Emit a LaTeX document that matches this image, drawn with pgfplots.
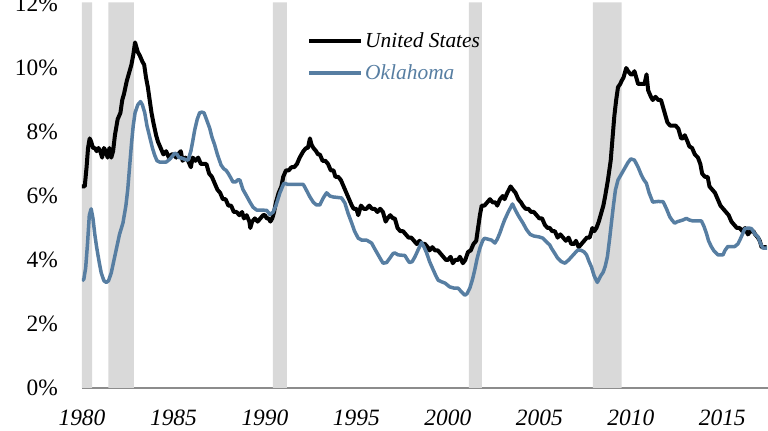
\documentclass[border=0pt]{standalone}
\usepackage{pgfplots}
\pgfplotsset{compat=1.18}
\usepackage{fontspec}
\setmainfont{Liberation Serif}
\definecolor{okblue}{HTML}{577EA2}
\definecolor{recgray}{HTML}{D9D9D9}
\definecolor{axgray}{HTML}{8C8C8C}
\begin{document}
\begin{tikzpicture}
\begin{axis}[
  scale only axis,
  width=686bp, height=385.6bp,
  xmin=1980, xmax=2017.5,
  ymin=0, ymax=12.05,
  axis x line*=bottom,
  axis y line*=left,
  x axis line style={-, draw=axgray, line width=2bp},
  y axis line style={-, draw=none},
  major tick length=0pt,
  tick style={draw=none},
  xtick={1980,1985,...,2015},
  ytick={0,2,...,12},
  /pgf/number format/assume math mode=true,
  xticklabel={\pgfmathprintnumber[1000 sep={}]{\tick}},
  yticklabel={\pgfmathprintnumber{\tick}\%},
  xticklabel style={font=\fontsize{23.5}{28}\selectfont\itshape, anchor=north, inner sep=0pt, yshift=-21.5bp},
  yticklabel style={font=\fontsize{23.5}{28}\selectfont, anchor=east, inner sep=0pt, xshift=-24bp},
  legend style={draw=none, fill=none, at={(rel axis cs:0.328,0.928)}, anchor=north west,
     inner sep=0pt, row sep=12bp, font=\fontsize{21.5}{25}\selectfont\itshape},
  legend cell align=left,
  legend image code/.code={\draw[#1] (0bp,0bp) -- (52bp,0bp);},
]
% recession shading
\addplot[fill=recgray, draw=none, forget plot] coordinates {(1980.0,0)(1980.0,12.05)(1980.55,12.05)(1980.55,0)} \closedcycle;
\addplot[fill=recgray, draw=none, forget plot] coordinates {(1981.44,0)(1981.44,12.05)(1982.84,12.05)(1982.84,0)} \closedcycle;
\addplot[fill=recgray, draw=none, forget plot] coordinates {(1990.44,0)(1990.44,12.05)(1991.2,12.05)(1991.2,0)} \closedcycle;
\addplot[fill=recgray, draw=none, forget plot] coordinates {(2001.15,0)(2001.15,12.05)(2001.86,12.05)(2001.86,0)} \closedcycle;
\addplot[fill=recgray, draw=none, forget plot] coordinates {(2007.92,0)(2007.92,12.05)(2009.5,12.05)(2009.5,0)} \closedcycle;
% United States
\addplot[black, line width=4bp, line join=round] coordinates {
(1980.00,6.3)(1980.15,6.3)(1980.25,6.9)(1980.33,7.5)(1980.42,7.8)(1980.5,7.7)(1980.6,7.5)(1980.7,7.5)(1980.8,7.4)(1980.9,7.5)
(1981.0,7.4)(1981.1,7.2)(1981.2,7.5)(1981.3,7.4)(1981.4,7.2)(1981.5,7.5)(1981.6,7.2)(1981.7,7.4)(1981.8,7.9)(1981.95,8.4)
(1982.1,8.6)(1982.2,9.0)(1982.3,9.2)(1982.45,9.6)(1982.6,9.9)(1982.7,10.1)(1982.8,10.4)(1982.9,10.8)(1982.95,10.7)(1983.05,10.5)
(1983.15,10.4)(1983.3,10.2)(1983.4,10.1)(1983.5,9.7)(1983.6,9.4)(1983.7,9.0)(1983.8,8.6)(1983.9,8.3)(1984.05,7.9)(1984.15,7.7)
(1984.3,7.5)(1984.45,7.3)(1984.6,7.4)(1984.75,7.2)(1984.9,7.3)(1985.0,7.3)(1985.15,7.2)(1985.25,7.3)(1985.4,7.4)(1985.5,7.1)
(1985.65,7.2)(1985.8,7.1)(1985.95,6.9)(1986.05,7.2)(1986.2,7.1)(1986.35,7.2)(1986.5,7.0)(1986.65,7.0)(1986.8,7.0)(1986.95,6.7)
(1987.1,6.6)(1987.25,6.4)(1987.4,6.2)(1987.55,6.1)(1987.7,5.9)(1987.85,5.9)(1988.0,5.7)(1988.15,5.7)(1988.3,5.5)(1988.45,5.5)
(1988.6,5.4)(1988.75,5.5)(1988.85,5.3)(1989.0,5.4)(1989.15,5.2)(1989.2,5.0)(1989.3,5.2)(1989.45,5.3)(1989.6,5.2)(1989.75,5.3)
(1989.9,5.4)(1990.0,5.4)(1990.1,5.3)(1990.2,5.3)(1990.3,5.2)(1990.4,5.3)(1990.5,5.5)(1990.6,5.8)(1990.75,6.1)(1990.9,6.3)
(1991.0,6.6)(1991.15,6.8)(1991.3,6.8)(1991.45,6.9)(1991.6,6.9)(1991.75,7.0)(1991.9,7.2)(1992.0,7.3)(1992.1,7.4)(1992.25,7.5)
(1992.35,7.5)(1992.46,7.8)(1992.55,7.6)(1992.65,7.5)(1992.8,7.4)(1992.9,7.3)(1993.0,7.3)(1993.15,7.1)(1993.3,7.1)(1993.45,7.0)
(1993.6,6.8)(1993.75,6.8)(1993.85,6.6)(1994.0,6.6)(1994.15,6.5)(1994.3,6.3)(1994.45,6.1)(1994.6,5.9)(1994.75,5.7)(1994.85,5.6)
(1995.0,5.6)(1995.1,5.4)(1995.25,5.7)(1995.4,5.6)(1995.55,5.6)(1995.7,5.7)(1995.85,5.6)(1996.0,5.6)(1996.15,5.5)(1996.3,5.6)
(1996.45,5.5)(1996.6,5.2)(1996.7,5.3)(1996.85,5.4)(1997.0,5.3)(1997.1,5.3)(1997.25,5.0)(1997.4,4.9)(1997.55,4.9)(1997.7,4.8)
(1997.85,4.7)(1998.0,4.7)(1998.15,4.6)(1998.3,4.5)(1998.45,4.6)(1998.6,4.5)(1998.75,4.5)(1998.9,4.4)(1999.0,4.3)(1999.15,4.4)
(1999.3,4.3)(1999.45,4.3)(1999.6,4.2)(1999.75,4.1)(1999.9,4.0)(2000.0,4.0)(2000.15,4.1)(2000.27,3.9)(2000.4,4.0)(2000.55,4.0)
(2000.66,4.1)(2000.82,3.9)(2000.95,4.0)(2001.1,4.25)(2001.25,4.3)(2001.4,4.5)(2001.55,4.6)(2001.65,5.0)(2001.75,5.4)(2001.85,5.7)
(2002.0,5.7)(2002.15,5.8)(2002.3,5.9)(2002.45,5.8)(2002.6,5.8)(2002.7,5.7)(2002.85,5.9)(2003.0,6.0)(2003.1,5.9)(2003.25,6.1)
(2003.43,6.3)(2003.55,6.2)(2003.7,6.1)(2003.85,5.9)(2004.0,5.8)(2004.1,5.7)(2004.25,5.6)(2004.4,5.6)(2004.55,5.5)(2004.7,5.5)
(2004.85,5.4)(2005.0,5.3)(2005.15,5.3)(2005.3,5.1)(2005.45,5.0)(2005.57,5.0)(2005.7,4.9)(2005.85,4.9)(2006.0,4.7)(2006.15,4.8)
(2006.3,4.7)(2006.45,4.6)(2006.6,4.7)(2006.75,4.5)(2006.9,4.5)(2007.0,4.6)(2007.15,4.4)(2007.3,4.5)(2007.45,4.6)(2007.6,4.7)
(2007.75,4.7)(2007.9,5.0)(2008.0,4.9)(2008.12,5.0)(2008.25,5.2)(2008.4,5.5)(2008.5,5.7)(2008.6,6.0)(2008.75,6.5)(2008.9,7.1)
(2009.0,7.8)(2009.1,8.5)(2009.2,9.0)(2009.3,9.4)(2009.42,9.5)(2009.5,9.6)(2009.6,9.7)(2009.75,10.0)(2009.85,9.9)(2010.0,9.8)
(2010.1,9.8)(2010.2,9.9)(2010.3,9.7)(2010.4,9.5)(2010.5,9.5)(2010.6,9.5)(2010.75,9.5)(2010.86,9.8)(2010.95,9.3)(2011.1,9.1)
(2011.2,9.0)(2011.35,9.1)(2011.5,9.0)(2011.65,9.0)(2011.75,8.8)(2011.85,8.6)(2012.0,8.3)(2012.15,8.2)(2012.3,8.2)(2012.45,8.2)
(2012.6,8.1)(2012.75,7.8)(2012.85,7.8)(2012.95,7.9)(2013.1,7.7)(2013.2,7.55)(2013.35,7.5)(2013.5,7.3)(2013.67,7.2)(2013.8,7.0)
(2013.9,6.7)(2014.05,6.6)(2014.2,6.6)(2014.3,6.3)(2014.45,6.2)(2014.6,6.1)(2014.75,5.9)(2014.9,5.7)(2015.05,5.6)(2015.2,5.5)
(2015.35,5.4)(2015.5,5.2)(2015.65,5.1)(2015.8,5.0)(2015.95,5.0)(2016.1,4.9)(2016.25,5.0)(2016.4,4.8)(2016.55,4.9)(2016.7,4.9)
(2016.8,4.8)(2016.95,4.7)(2017.05,4.6)(2017.15,4.4)(2017.3,4.4)(2017.42,4.4)
};
\addlegendentry{United States}
% Oklahoma
\addplot[okblue, line width=3.5bp, line join=round] coordinates {
(1980.0,3.35)(1980.1,3.4)(1980.2,3.75)(1980.3,4.5)(1980.4,5.4)(1980.5,5.6)(1980.6,5.3)(1980.7,4.8)(1980.8,4.4)(1980.95,3.9)
(1981.05,3.6)(1981.2,3.35)(1981.33,3.3)(1981.45,3.35)(1981.6,3.6)(1981.75,4.0)(1981.9,4.4)(1982.05,4.8)(1982.24,5.16)(1982.4,5.7)
(1982.5,6.2)(1982.6,6.9)(1982.7,7.6)(1982.8,8.2)(1982.9,8.6)(1983.05,8.85)(1983.2,8.95)(1983.3,8.85)(1983.43,8.6)(1983.55,8.2)
(1983.7,7.85)(1983.85,7.5)(1983.97,7.28)(1984.1,7.1)(1984.25,7.06)(1984.45,7.06)(1984.6,7.06)(1984.8,7.15)(1984.95,7.25)(1985.07,7.34)
(1985.2,7.3)(1985.3,7.2)(1985.43,7.19)(1985.6,7.15)(1985.8,7.12)(1985.95,7.4)(1986.05,7.7)(1986.16,8.06)(1986.3,8.4)(1986.43,8.6)
(1986.55,8.62)(1986.67,8.6)(1986.8,8.4)(1986.98,8.12)(1987.1,7.85)(1987.25,7.6)(1987.4,7.3)(1987.6,6.97)(1987.75,6.85)(1987.88,6.8)
(1988.0,6.7)(1988.15,6.55)(1988.25,6.44)(1988.4,6.44)(1988.5,6.5)(1988.63,6.5)(1988.8,6.2)(1989.0,6.0)(1989.18,5.81)(1989.35,5.65)
(1989.55,5.56)(1989.8,5.56)(1990.1,5.55)(1990.27,5.42)(1990.45,5.5)(1990.6,5.7)(1990.82,6.1)(1991.0,6.35)(1991.05,6.4)(1991.27,6.36)
(1991.6,6.36)(1992.1,6.36)(1992.25,6.2)(1992.46,5.97)(1992.65,5.8)(1992.82,5.72)(1993.0,5.72)(1993.2,5.95)(1993.37,6.1)(1993.55,6.0)
(1993.73,5.97)(1994.19,5.94)(1994.37,5.78)(1994.55,5.45)(1994.74,5.16)(1994.9,4.9)(1995.1,4.68)(1995.3,4.62)(1995.56,4.62)(1995.83,4.53)
(1996.0,4.35)(1996.19,4.16)(1996.35,4.0)(1996.46,3.9)(1996.65,3.92)(1996.83,4.06)(1997.0,4.2)(1997.1,4.22)(1997.28,4.16)(1997.65,4.14)
(1997.8,4.0)(1997.9,3.92)(1998.05,3.95)(1998.2,4.1)(1998.4,4.35)(1998.56,4.55)(1998.7,4.4)(1998.84,4.22)(1999.0,3.95)(1999.2,3.69)
(1999.35,3.5)(1999.47,3.37)(1999.65,3.32)(1999.84,3.28)(2000.1,3.16)(2000.35,3.12)(2000.56,3.12)(2000.75,3.0)(2000.93,2.9)(2001.05,2.95)
(2001.2,3.12)(2001.35,3.4)(2001.47,3.69)(2001.6,4.05)(2001.75,4.37)(2001.9,4.6)(2002.0,4.68)(2002.2,4.65)(2002.39,4.62)(2002.57,4.53)
(2002.7,4.65)(2002.84,4.84)(2003.0,5.1)(2003.1,5.25)(2003.3,5.5)(2003.53,5.75)(2003.7,5.55)(2003.84,5.4)(2004.0,5.25)(2004.1,5.16)
(2004.3,4.95)(2004.5,4.8)(2004.7,4.75)(2005.0,4.72)(2005.2,4.68)(2005.4,4.56)(2005.57,4.47)(2005.66,4.37)(2005.85,4.2)(2006.0,4.06)
(2006.2,3.95)(2006.4,3.9)(2006.6,4.0)(2006.76,4.1)(2006.95,4.22)(2007.1,4.31)(2007.3,4.3)(2007.45,4.25)(2007.58,4.16)(2007.72,3.95)
(2007.85,3.78)(2008.0,3.5)(2008.17,3.3)(2008.35,3.5)(2008.49,3.62)(2008.6,3.8)(2008.72,4.1)(2008.85,4.7)(2008.94,5.16)(2009.05,5.7)
(2009.16,6.19)(2009.3,6.5)(2009.4,6.6)(2009.55,6.75)(2009.67,6.87)(2009.85,7.05)(2010.0,7.16)(2010.2,7.12)(2010.4,6.9)(2010.58,6.65)
(2010.72,6.5)(2010.85,6.4)(2011.0,6.1)(2011.2,5.81)(2011.5,5.83)(2011.77,5.82)(2011.95,5.6)(2012.13,5.35)(2012.25,5.25)(2012.4,5.15)
(2012.55,5.2)(2012.68,5.22)(2012.85,5.25)(2013.04,5.3)(2013.2,5.25)(2013.4,5.22)(2013.86,5.22)(2014.0,5.05)(2014.13,4.84)(2014.25,4.6)
(2014.4,4.42)(2014.55,4.28)(2014.77,4.16)(2015.04,4.16)(2015.15,4.3)(2015.3,4.42)(2015.5,4.42)(2015.68,4.42)(2015.85,4.5)(2015.96,4.62)
(2016.1,4.8)(2016.23,4.98)(2016.45,5.0)(2016.6,4.98)(2016.8,4.8)(2016.96,4.72)(2017.1,4.5)(2017.23,4.37)(2017.45,4.37)
};
\addlegendentry{\textcolor{okblue}{Oklahoma}}
\end{axis}
\pgfresetboundingbox
\path[use as bounding box] (-82bp,-43bp) rectangle (686bp,388bp);
\end{tikzpicture}
\end{document}
